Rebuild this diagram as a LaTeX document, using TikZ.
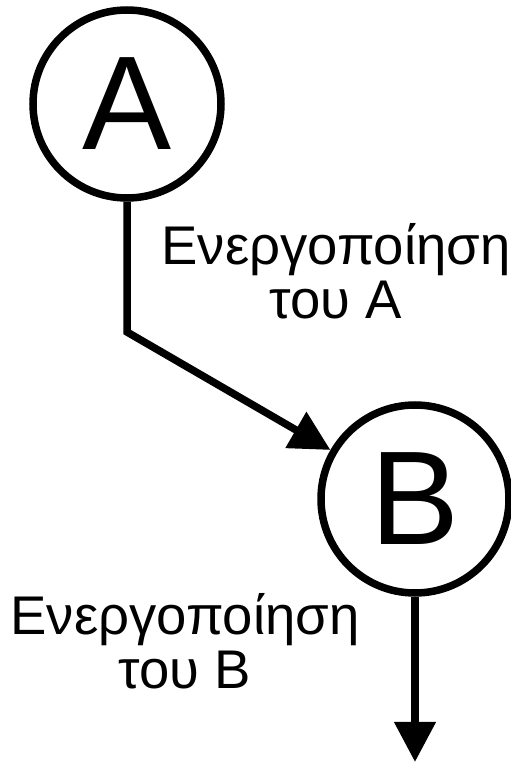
\documentclass[tikz,border=0pt]{standalone}
\usepackage{fontspec}
\setmainfont{Liberation Sans}
\usetikzlibrary{arrows.meta}

\begin{document}
\begin{tikzpicture}[line width=0.15cm,
  state/.style={draw,circle,minimum size=3.76cm,inner sep=0pt,font=\fontsize{76}{80}\selectfont},
  note/.style={align=center,font=\fontsize{31}{31}\selectfont},
  arr/.style={-{Triangle[length=0.8cm,width=0.8cm]}}]
  \useasboundingbox (0,0) rectangle (10.22,15.26);
  % states
  \node[state] (A) at (2.54,13.18) {A};
  \node[state] (B) at (8.30,5.28) {B};
  % labels
  \node[note] (la) at (6.72,9.84) {Ενεργοποίηση\\του Α};
  \node[note] (lb) at (3.70,2.44) {Ενεργοποίηση\\του Β};
  % connectors
  \coordinate (bend) at (2.54,8.62);
  \coordinate (out) at (8.30,0.02);
  \draw[arr] (A) -- (bend) -- (B);
  \draw[arr] (B) -- (out);
\end{tikzpicture}
\end{document}
